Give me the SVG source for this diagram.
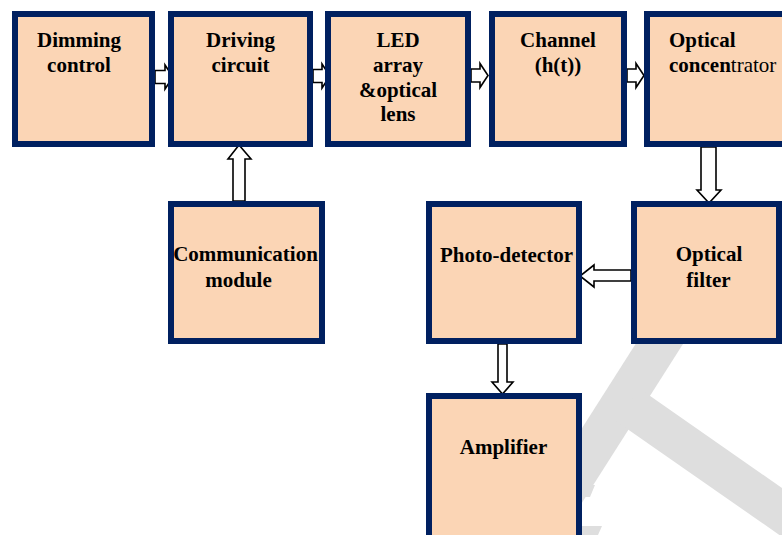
<svg xmlns="http://www.w3.org/2000/svg" width="782" height="535" viewBox="0 0 782 535">
<style>
.box{fill:#FBD5B5;stroke:#002060;stroke-width:6}
.t{font-family:"Liberation Serif","Times New Roman",serif;font-size:21px;font-weight:bold;fill:#000;text-anchor:middle}
.r{font-weight:normal}
.arr{fill:#fff;stroke:#000;stroke-width:1.6;stroke-linejoin:miter}
.wm{stroke:#dedede;stroke-width:40;fill:none;stroke-linecap:butt}
</style>
<rect width="782" height="535" fill="#fff"/>
<g id="watermark">
<line class="wm" x1="700" y1="280" x2="560" y2="500"/>
<path class="wm" d="M628 405 L800 525"/>
<polygon points="582,485 595,485 590,497 582,497" fill="#dedede"/>
<polygon points="582,526 602,526 598,535 582,535" fill="#dedede"/>
</g>
<g id="connectors">
<path class="arr" d="M155 70.5 H165 V65 L173 77 L165 89 V83.5 H155 Z"/>
<path class="arr" d="M313 69.5 H322 V64 L330 76 L322 88 V82.5 H313 Z"/>
<path class="arr" d="M471 69 H480 V63.5 L488 75.5 L480 87.5 V82 H471 Z"/>
<path class="arr" d="M627 69 H636 V63.5 L644 75.5 L636 87.5 V82 H627 Z"/>
<path class="arr" d="M233 201 V159 H228 L239 145 L251 159 H245 V201 Z"/>
<path class="arr" d="M701 147 V190 H697 L709 203 L721 190 H716 V147 Z"/>
<path class="arr" d="M631 270 H594 V265 L580 276 L594 287 V281 H631 Z"/>
<path class="arr" d="M498 344 V382 H492 L502.5 394 L513 382 H507 V344 Z"/>
</g>
<g id="dimming"><rect class="box" x="15" y="14" width="137" height="130"/>
<text class="t" x="79" y="47">Dimming</text><text class="t" x="79" y="72">control</text></g>
<g id="driving"><rect class="box" x="171" y="14" width="139" height="130"/>
<text class="t" x="240.5" y="47">Driving</text><text class="t" x="240.5" y="72">circuit</text></g>
<g id="led"><rect class="box" x="328" y="14" width="140" height="130"/>
<text class="t" x="398" y="47">LED</text><text class="t" x="398" y="72">array</text><text class="t" x="398" y="97">&amp;optical</text><text class="t" x="398" y="121">lens</text></g>
<g id="channel"><rect class="box" x="492" y="14" width="132" height="130"/>
<text class="t" x="558" y="47">Channel</text><text class="t" x="558" y="72">(h(t))</text></g>
<g id="concentrator"><rect class="box" x="647" y="14" width="145" height="130"/>
<text class="t" x="669" y="47" style="text-anchor:start">Optical</text><text class="t" x="669" y="72" style="text-anchor:start">concen<tspan class="r">trator</tspan></text></g>
<g id="communication"><rect class="box" x="171" y="204" width="151" height="137"/>
<text class="t" x="245.5" y="261">Communication</text><text class="t" x="238.5" y="287">module</text></g>
<g id="photodetector"><rect class="box" x="429" y="204" width="150" height="137"/>
<text class="t" x="506.5" y="262">Photo-detector</text></g>
<g id="filter"><rect class="box" x="634" y="204" width="145" height="137"/>
<text class="t" x="709" y="261">Optical</text><text class="t" x="708.5" y="287">filter</text></g>
<g id="amplifier"><rect class="box" x="429" y="396" width="150" height="150"/>
<text class="t" x="503.5" y="454">Amplifier</text></g>
</svg>
